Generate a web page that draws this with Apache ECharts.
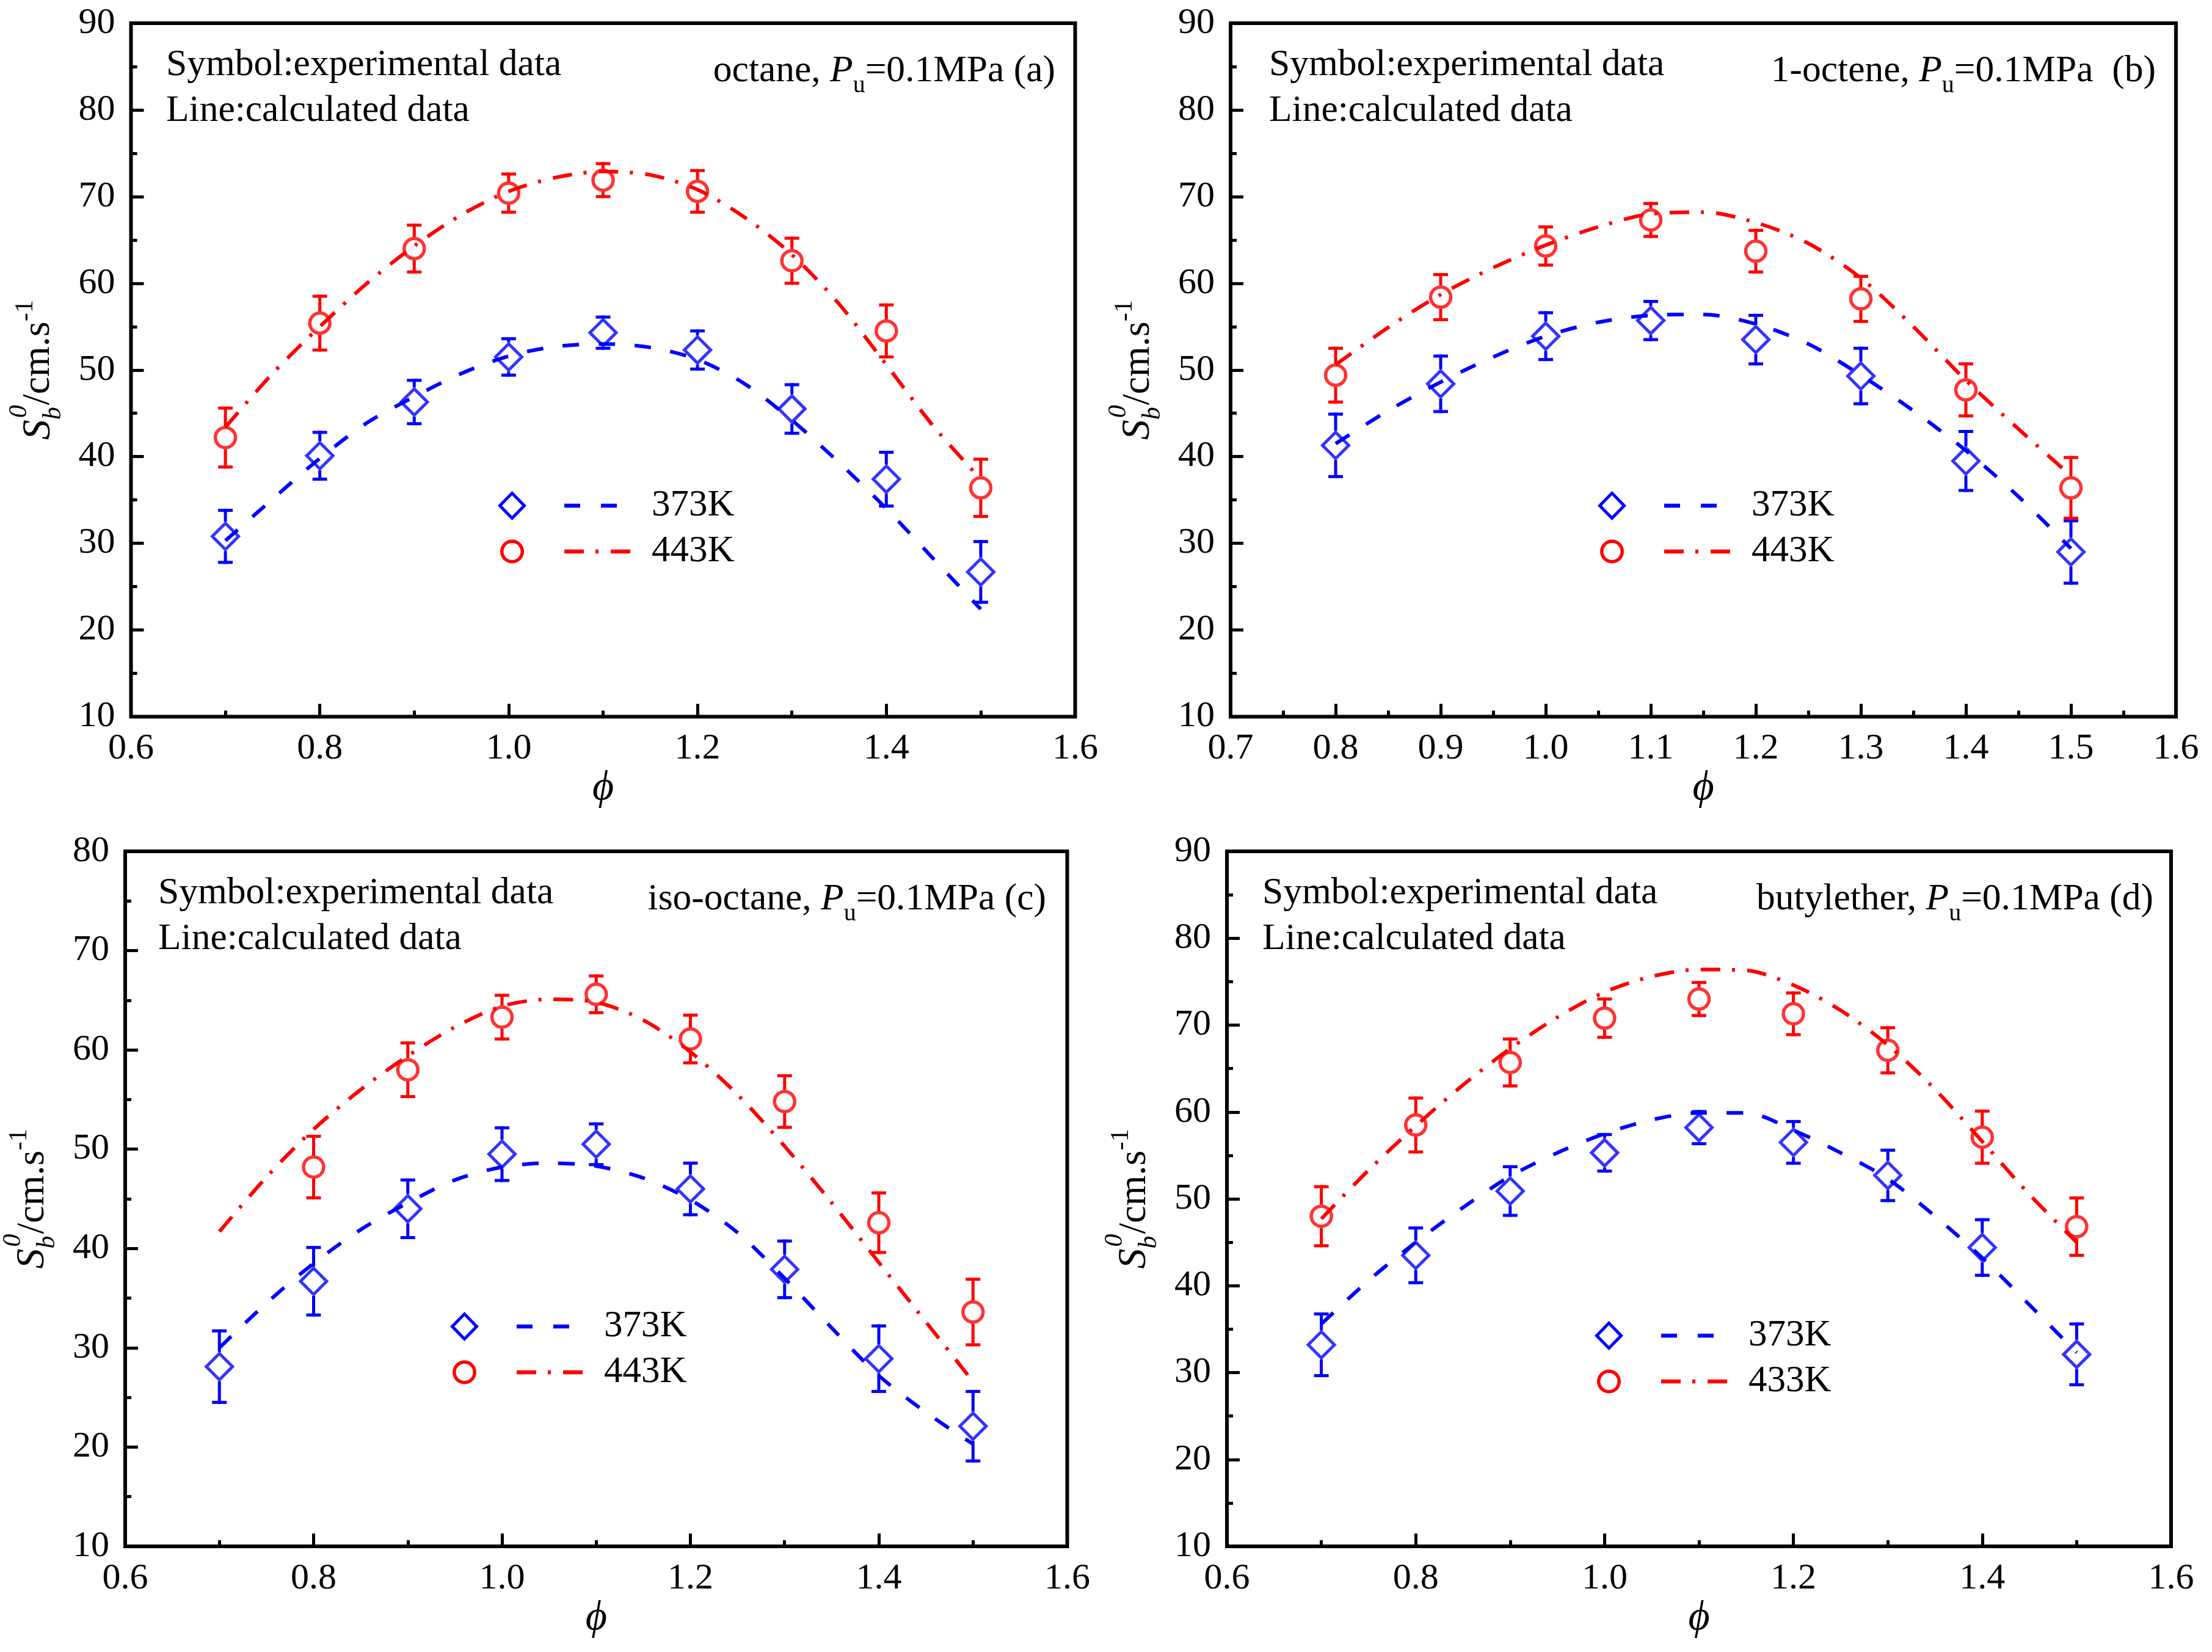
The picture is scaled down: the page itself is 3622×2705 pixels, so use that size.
<!DOCTYPE html>
<html>
<head>
<meta charset="utf-8">
<script src="https://cdn.jsdelivr.net/npm/echarts@6/dist/echarts.min.js"></script>
<style>html,body{margin:0;padding:0;background:#fff}#c{width:3622px;height:2705px}</style>
</head>
<body>
<div id="c"></div>
<script>
// ---------- data ----------
const phi9 = [0.7, 0.8, 0.9, 1.0, 1.1, 1.2, 1.3, 1.4, 1.5];
const phi8 = [0.8, 0.9, 1.0, 1.1, 1.2, 1.3, 1.4, 1.5];
const calcPhi17 = [0.70, 0.75, 0.80, 0.85, 0.90, 0.95, 1.00, 1.05, 1.10, 1.15, 1.20, 1.25, 1.30, 1.35, 1.40, 1.45, 1.50];
const calcPhi15 = [0.80, 0.85, 0.90, 0.95, 1.00, 1.05, 1.10, 1.15, 1.20, 1.25, 1.30, 1.35, 1.40, 1.45, 1.50];

// (a) octane
const a373 = [30.8, 40.1, 46.3, 51.5, 54.3, 52.3, 45.5, 37.4, 26.7];
const a373Err = [3.0, 2.7, 2.5, 2.1, 1.8, 2.2, 2.8, 3.1, 3.5];
const a443 = [42.2, 55.4, 64.0, 70.4, 71.9, 70.6, 62.6, 54.5, 36.4];
const a443Err = [3.4, 3.1, 2.7, 2.2, 1.9, 2.4, 2.6, 3.0, 3.3];
const a373Calc = [30.3, 35.1, 39.8, 43.9, 46.9, 49.6, 51.6, 52.7, 53.0, 52.6, 51.2, 48.4, 44.2, 39.3, 34.0, 28.2, 22.4];
const a443Calc = [43.4, 49.6, 55.0, 60.0, 64.3, 67.9, 70.6, 72.2, 72.9, 72.5, 70.8, 67.6, 63.3, 57.6, 50.6, 43.5, 37.4];

// (b) 1-octene
const b373 = [41.3, 48.4, 53.9, 55.7, 53.5, 49.3, 39.5, 29.0];
const b373Err = [3.6, 3.2, 2.7, 2.2, 2.8, 3.2, 3.4, 3.6];
const b443 = [49.4, 58.4, 64.3, 67.3, 63.7, 58.2, 47.7, 36.4];
const b443Err = [3.1, 2.6, 2.2, 1.9, 2.4, 2.6, 3.0, 3.5];
const b373Calc = [41.5, 45.3, 48.6, 51.5, 53.9, 55.5, 56.3, 56.4, 55.3, 53.0, 49.4, 45.3, 40.7, 35.4, 29.4];
const b443Calc = [50.6, 54.9, 58.7, 61.8, 64.4, 66.5, 68.0, 68.2, 67.0, 64.6, 60.6, 55.0, 48.8, 43.2, 37.8];

// (c) iso-octane
const c373 = [28.1, 36.7, 44.0, 49.5, 50.5, 46.0, 37.9, 28.9, 22.1];
const c373Err = [3.6, 3.4, 2.9, 2.65, 2.05, 2.6, 2.85, 3.3, 3.5];
const c443 = [48.2, 58.0, 63.3, 65.6, 61.1, 54.8, 42.6, 33.6];
const c443Err = [3.1, 2.7, 2.2, 1.85, 2.4, 2.6, 3.0, 3.3];
const c373Calc = [30.0, 34.5, 38.5, 41.9, 44.6, 46.9, 48.2, 48.6, 48.3, 47.1, 44.9, 41.6, 37.0, 32.0, 27.2, 23.5, 20.3];
const c443Calc = [41.7, 47.2, 52.0, 56.0, 59.4, 62.3, 64.4, 65.1, 64.8, 63.0, 59.8, 55.5, 50.3, 44.6, 38.6, 32.6, 26.6];

// (d) butylether
const d373 = [33.2, 43.5, 50.9, 55.3, 58.2, 56.5, 52.7, 44.4, 32.1];
const d373Err = [3.55, 3.15, 2.8, 2.1, 1.85, 2.4, 2.9, 3.2, 3.5];
const d433 = [48.0, 58.5, 65.7, 70.8, 73.0, 71.3, 67.1, 57.1, 46.8];
const d433Err = [3.4, 3.1, 2.7, 2.2, 1.9, 2.4, 2.6, 3.0, 3.3];
const d373Calc = [35.6, 40.6, 45.0, 49.0, 52.6, 55.3, 57.5, 59.1, 59.9, 59.9, 57.9, 55.3, 52.3, 48.0, 43.2, 37.8, 32.3];
const d433Calc = [47.7, 53.3, 58.4, 63.1, 67.3, 70.9, 73.8, 75.6, 76.4, 76.3, 74.6, 71.7, 67.7, 62.6, 56.6, 50.5, 45.0];

const xTicksA = [0.6, 1.6, 0.2];
const xTicksB = [0.7, 1.6, 0.1];
const yTicks90 = [10, 90, 10];
const yTicks80 = [10, 80, 10];

const leftText = 'Symbol:experimental data\nLine:calculated data';
const fuelNames = ['octane, ', '1-octene, ', 'iso-octane, ', 'butylether, '];
const tagNames = ['=0.1MPa (a)', '=0.1MPa  (b)', '=0.1MPa (c)', '=0.1MPa (d)'];
const lowName = '373K';
const hotNames = ['443K', '443K', '443K', '433K'];

// ---------- layout / style ----------
const FONT = 'Liberation Serif';
const BLUE = '#0000FF', RED = '#FF0000';
const panels = [
  {grid: {left: 214.5, top: 38, width: 1546, height: 1135.5}, x: xTicksA, y: yTicks90,
   exp: [[phi9, a373, a373Err], [phi9, a443, a443Err]], calc: [[calcPhi17, a373Calc], [calcPhi17, a443Calc]],
   lt: {left: 272, top: 69}, rt: {right: 1894, top: 67}, lg: {left: 815, top: 797.5}},
  {grid: {left: 2015, top: 38, width: 1548, height: 1135.5}, x: xTicksB, y: yTicks90,
   exp: [[phi8, b373, b373Err], [phi8, b443, b443Err]], calc: [[calcPhi15, b373Calc], [calcPhi15, b443Calc]],
   lt: {left: 2078, top: 69}, rt: {right: 92, top: 67}, lg: {left: 2616, top: 797.5}},
  {grid: {left: 201.5, top: 1394, width: 1546, height: 1138}, x: xTicksA, y: yTicks80,
   exp: [[phi9, c373, c373Err], [phi8, c443, c443Err]], calc: [[calcPhi17, c373Calc], [calcPhi17, c443Calc]],
   lt: {left: 259, top: 1425}, rt: {right: 1909, top: 1423}, lg: {left: 737, top: 2141.5}},
  {grid: {left: 2009, top: 1394, width: 1546, height: 1138}, x: xTicksA, y: yTicks90,
   exp: [[phi9, d373, d373Err], [phi9, d433, d433Err]], calc: [[calcPhi17, d373Calc], [calcPhi17, d433Calc]],
   lt: {left: 2067, top: 1425}, rt: {right: 96, top: 1423}, lg: {left: 2611, top: 2156.5}}
];

const ICON_D = 'path://M0,0L0.01,0L0,0.01Z M217,48L216.99,48L217,47.99Z M23.5,0L47,24L23.5,48L0,24Z M23.5,7L7,24L23.5,41L40,24Z M109,20.7h26v6.6h-26Z M169,20.7h26v6.6h-26Z';
const ICON_C = 'path://M0,0L0.01,0L0,0.01Z M217,48L216.99,48L217,47.99Z M4,24A19.5,19.5 0 1,0 43,24A19.5,19.5 0 1,0 4,24Z M9.5,24A14,14 0 1,1 37.5,24A14,14 0 1,1 9.5,24Z M109,20.7h32v6.6h-32Z M160,20.7h5v6.6h-5Z M185,20.7h32v6.6h-32Z';

function zip(xs, ys) { return xs.map((x, i) => [x, ys[i]]); }
function zip3(xs, ys, es) { return xs.map((x, i) => [x, ys[i], es[i]]); }

function errRender(color, gap) {
  return function (params, api) {
    const x = api.value(0), y = api.value(1), e = api.value(2);
    const c = api.coord([x, y]);
    const t = api.coord([x, y + e]);
    const b = api.coord([x, y - e]);
    const st = {stroke: color, lineWidth: 5};
    const half = 12;
    const ch = [];
    if (c[1] - gap > t[1]) ch.push({type: 'line', shape: {x1: c[0], y1: t[1] - 2.5, x2: c[0], y2: c[1] - gap}, style: st});
    if (c[1] + gap < b[1]) ch.push({type: 'line', shape: {x1: c[0], y1: c[1] + gap, x2: c[0], y2: b[1] + 2.5}, style: st});
    ch.push({type: 'line', shape: {x1: c[0] - half, y1: t[1], x2: c[0] + half, y2: t[1]}, style: st});
    ch.push({type: 'line', shape: {x1: c[0] - half, y1: b[1], x2: c[0] + half, y2: b[1]}, style: st});
    return {type: 'group', children: ch};
  };
}

const yName = '{S|S}{b|b}{z|0}{n|/cm.s}{e|-1}';
const yRich = {
  S: {fontFamily: FONT, fontStyle: 'italic', fontWeight: 'normal', fontSize: 66, lineHeight: 130, color: '#000'},
  b: {fontFamily: FONT, fontStyle: 'italic', fontWeight: 'normal', fontSize: 42, verticalAlign: 'bottom', padding: [0, 0, 20, 0], color: '#000'},
  z: {fontFamily: FONT, fontStyle: 'italic', fontWeight: 'normal', fontSize: 42, verticalAlign: 'top', padding: [12, 0, 0, -18], color: '#000'},
  n: {fontFamily: FONT, fontWeight: 'normal', fontSize: 64, lineHeight: 130, color: '#000'},
  e: {fontFamily: FONT, fontWeight: 'normal', fontSize: 42, verticalAlign: 'top', padding: [22, 0, 0, 0], color: '#000'}
};
const tRich = {
  n: {fontFamily: FONT, fontWeight: 'normal', fontSize: 61.5, lineHeight: 100, color: '#000'},
  i: {fontFamily: FONT, fontWeight: 'normal', fontStyle: 'italic', fontSize: 61.5, lineHeight: 100, color: '#000'},
  s: {fontFamily: FONT, fontWeight: 'normal', fontSize: 40, verticalAlign: 'bottom', padding: [0, 0, 7, 0], color: '#000'}
};

const option = {
  backgroundColor: '#fff',
  animation: false,
  grid: [], xAxis: [], yAxis: [], series: [], title: [], legend: []
};

panels.forEach((p, i) => {
  option.grid.push(Object.assign({show: true, borderColor: '#000', borderWidth: 6, backgroundColor: 'transparent', containLabel: false}, p.grid));
  option.xAxis.push({
    gridIndex: i, type: 'value', min: p.x[0], max: p.x[1], interval: p.x[2],
    axisLine: {show: false},
    axisTick: {show: true, inside: true, length: 21, lineStyle: {color: '#000', width: 5}},
    minorTick: {show: true, splitNumber: 2, length: 10, lineStyle: {color: '#000', width: 5}},
    splitLine: {show: false}, minorSplitLine: {show: false},
    axisLabel: {fontFamily: FONT, fontSize: 60, color: '#000', margin: 23, formatter: v => v.toFixed(1)},
    name: 'ϕ', nameLocation: 'middle', nameGap: 80,
    nameTextStyle: {fontFamily: FONT, fontStyle: 'italic', fontSize: 68, color: '#000'}
  });
  option.yAxis.push({
    gridIndex: i, type: 'value', min: p.y[0], max: p.y[1], interval: p.y[2],
    axisLine: {show: false},
    axisTick: {show: true, inside: true, length: 21, lineStyle: {color: '#000', width: 5}},
    minorTick: {show: true, splitNumber: 2, length: 10, lineStyle: {color: '#000', width: 5}},
    splitLine: {show: false}, minorSplitLine: {show: false},
    axisLabel: {fontFamily: FONT, fontSize: 60, color: '#000', margin: 26},
    name: yName, nameLocation: 'middle', nameGap: 86, nameRotate: 90,
    nameTextStyle: {rich: yRich}
  });
  const hot = hotNames[i];
  option.series.push({
    name: lowName, type: 'line', xAxisIndex: i, yAxisIndex: i, data: zip(p.calc[0][0], p.calc[0][1]),
    smooth: 0.3, symbol: 'none', showSymbol: false, z: 2,
    itemStyle: {color: BLUE}, lineStyle: {color: BLUE, width: 6, type: [27, 32], cap: 'butt'}
  });
  option.series.push({
    name: hot, type: 'line', xAxisIndex: i, yAxisIndex: i, data: zip(p.calc[1][0], p.calc[1][1]),
    smooth: 0.3, symbol: 'none', showSymbol: false, z: 2,
    itemStyle: {color: RED}, lineStyle: {color: RED, width: 6, type: [32, 19, 5, 20], cap: 'butt'}
  });
  option.series.push({
    name: lowName + ' exp', type: 'scatter', xAxisIndex: i, yAxisIndex: i, data: zip(p.exp[0][0], p.exp[0][1]),
    symbol: 'diamond', symbolSize: 43, z: 3,
    itemStyle: {color: 'rgba(255,255,255,0)', borderColor: BLUE, borderWidth: 5}
  });
  option.series.push({
    name: hot + ' exp', type: 'scatter', xAxisIndex: i, yAxisIndex: i, data: zip(p.exp[1][0], p.exp[1][1]),
    symbol: 'circle', symbolSize: 33, z: 3,
    itemStyle: {color: 'rgba(255,255,255,0)', borderColor: RED, borderWidth: 5.5}
  });
  option.series.push({
    name: lowName + ' err', type: 'custom', xAxisIndex: i, yAxisIndex: i, z: 3,
    data: zip3(p.exp[0][0], p.exp[0][1], p.exp[0][2]), encode: {x: 0, y: 1},
    renderItem: errRender(BLUE, 24)
  });
  option.series.push({
    name: hot + ' err', type: 'custom', xAxisIndex: i, yAxisIndex: i, z: 3,
    data: zip3(p.exp[1][0], p.exp[1][1], p.exp[1][2]), encode: {x: 0, y: 1},
    renderItem: errRender(RED, 19)
  });
  option.title.push(Object.assign({
    text: leftText, padding: 0,
    textStyle: {fontFamily: FONT, fontSize: 61.5, fontWeight: 'normal', color: '#000', lineHeight: 75}
  }, p.lt));
  option.title.push(Object.assign({
    text: '{n|' + fuelNames[i] + '}{i|P}{s|u}{n|' + tagNames[i] + '}', padding: 0,
    textStyle: {fontWeight: 'normal', rich: tRich}
  }, p.rt));
  option.legend.push(Object.assign({
    orient: 'vertical', padding: 0, itemWidth: 217, itemHeight: 48, itemGap: 14,
    selectedMode: false, symbolKeepAspect: false,
    itemStyle: {borderWidth: 0},
    textStyle: {fontFamily: FONT, fontSize: 61, color: '#000', lineHeight: 48, padding: [0, 0, 0, 30]},
    data: [{name: lowName, icon: ICON_D}, {name: hot, icon: ICON_C}]
  }, p.lg));
});

const chart = echarts.init(document.getElementById('c'), null, {renderer: 'canvas', devicePixelRatio: 1});
chart.setOption(option);
</script>
</body>
</html>
